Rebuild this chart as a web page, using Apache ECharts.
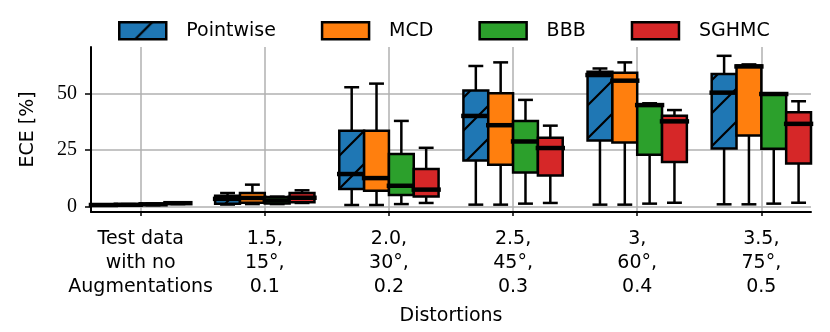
<!DOCTYPE html>
<html>
<head>
<meta charset="utf-8">
<script src="https://cdn.jsdelivr.net/npm/echarts@6/dist/echarts.min.js"></script>
<style>html,body{margin:0;padding:0;background:#fff;}#c{width:830px;height:332px;}</style>
</head>
<body>
<div id="c"></div>
<script>
// ---- data ----
const categories = [
  "Test data\nwith no\nAugmentations",
  "1.5,\n15°,\n0.1",
  "2.0,\n30°,\n0.2",
  "2.5,\n45°,\n0.3",
  "3,\n60°,\n0.4",
  "3.5,\n75°,\n0.5"
];
const methods = ["Pointwise", "MCD", "BBB", "SGHMC"];
const yTicks = [0, 25, 50];
// each box: [lowWhisker, q1, median, q3, highWhisker]
const pointwise = [
  [0.3, 0.5, 0.6, 0.7, 0.9],
  [0.8, 1.2, 3.3, 4.7, 5.9],
  [0.6, 7.7, 14.3, 33.5, 52.7],
  [0.75, 20.3, 40.0, 51.2, 62.1],
  [0.75, 29.1, 58.1, 59.5, 61.0],
  [0.9, 25.6, 50.3, 58.5, 66.6]
];
const mcd = [
  [0.3, 0.5, 0.7, 0.8, 1.0],
  [1.0, 1.6, 3.7, 5.9, 9.6],
  [0.6, 6.9, 12.5, 33.5, 54.3],
  [0.75, 18.4, 35.9, 50.0, 63.7],
  [0.75, 28.2, 55.6, 59.1, 63.7],
  [0.9, 31.3, 61.9, 62.3, 62.8]
];
const bbb = [
  [0.5, 0.7, 0.9, 1.0, 1.2],
  [1.0, 1.3, 2.6, 4.1, 4.3],
  [1.0, 5.0, 9.1, 23.2, 37.8],
  [1.2, 15.0, 28.7, 37.8, 47.1],
  [1.2, 22.8, 44.8, 45.2, 45.6],
  [1.2, 25.5, 49.7, 49.9, 50.0]
];
const sghmc = [
  [1.0, 1.2, 1.4, 1.6, 1.8],
  [1.5, 1.8, 3.8, 5.9, 7.1],
  [1.5, 4.4, 7.4, 16.5, 25.9],
  [1.5, 13.7, 25.8, 30.4, 35.7],
  [1.6, 19.6, 37.6, 40.1, 42.6],
  [1.6, 19.0, 36.5, 41.6, 46.5]
];
const allData = [pointwise, mcd, bbb, sghmc];

// ---- styles ----
const colors = ["#1f77b4", "#ff7f0e", "#2ca02c", "#d62728"];
const offsets = [-0.3, -0.1, 0.1, 0.3];
const boxWidth = 0.2;

function makeHatch(bg) {
  const s = 33;
  const c = document.createElement("canvas");
  c.width = s; c.height = s;
  const g = c.getContext("2d");
  g.fillStyle = bg; g.fillRect(0, 0, s, s);
  g.strokeStyle = "#000"; g.lineWidth = 2.2;
  g.beginPath();
  [-s, 0, s].forEach(o => { g.moveTo(o - 1, s + 1); g.lineTo(o + s + 1, -1); });
  g.stroke();
  return c;
}
const hatch = { image: makeHatch(colors[0]), repeat: "repeat" };
const fills = [hatch, colors[1], colors[2], colors[3]];

const SANS = "DejaVu Sans";
const SERIF = "Liberation Serif";

function renderBox(fill) {
  return function (params, api) {
    const x = api.value(0);
    const pL = api.coord([x, api.value(1)]);
    const pQ1 = api.coord([x, api.value(2)]);
    const pM = api.coord([x, api.value(3)]);
    const pQ3 = api.coord([x, api.value(4)]);
    const pH = api.coord([x, api.value(5)]);
    const w = api.size([boxWidth, 0])[0];
    const hw = w / 2, cw = w * 0.3;
    const cx = pM[0];
    const ls = { stroke: "#000", lineWidth: 2.5 };
    return {
      type: "group",
      children: [
        { type: "line", shape: { x1: cx, y1: pL[1], x2: cx, y2: pQ1[1] }, style: ls },
        { type: "line", shape: { x1: cx, y1: pQ3[1], x2: cx, y2: pH[1] }, style: ls },
        { type: "line", shape: { x1: cx - cw, y1: pL[1], x2: cx + cw, y2: pL[1] }, style: ls },
        { type: "line", shape: { x1: cx - cw, y1: pH[1], x2: cx + cw, y2: pH[1] }, style: ls },
        { type: "rect", shape: { x: cx - hw, y: pQ3[1], width: w, height: pQ1[1] - pQ3[1] },
          style: { fill: fill, stroke: "#000", lineWidth: 2.5 } },
        { type: "line", shape: { x1: cx - hw, y1: pM[1], x2: cx + hw, y2: pM[1] },
          style: { stroke: "#000", lineWidth: 4.5, lineCap: "square" } }
      ]
    };
  };
}

const series = methods.map((name, k) => ({
  name: name,
  type: "custom",
  renderItem: renderBox(fills[k]),
  itemStyle: { color: colors[k] },
  encode: { x: 0, y: [1, 2, 3, 4, 5] },
  data: allData[k].map((d, i) => [i + offsets[k]].concat(d)),
  z: 3
}));

const chart = echarts.init(document.getElementById("c"), null, { renderer: "canvas" });
chart.setOption({
  animation: false,
  backgroundColor: "#fff",
  grid: { left: 91, right: 19, top: 47, bottom: 120, containLabel: false },
  legend: {
    top: 21, left: 118, padding: 0,
    itemWidth: 47, itemHeight: 17, itemGap: 45,
    icon: "rect",
    textStyle: { fontFamily: SANS, fontSize: 19, color: "#000", padding: [0, 0, 0, 15] },
    data: methods.map((m, k) => ({
      name: m,
      itemStyle: { color: fills[k], borderColor: "#000", borderWidth: 2.5 }
    }))
  },
  xAxis: {
    type: "value", min: -0.4, max: 5.4,
    name: "Distortions", nameLocation: "middle", nameGap: 95,
    nameTextStyle: { fontFamily: SANS, fontSize: 19, color: "#000" },
    axisLine: { onZero: false, lineStyle: { color: "#000", width: 2 } },
    axisTick: { show: true, length: 4, customValues: categories.map((c, i) => i), lineStyle: { color: "#000", width: 1.5 } },
    axisLabel: {
      customValues: categories.map((c, i) => i),
      formatter: v => categories[Math.round(v)],
      fontFamily: SANS, fontSize: 19, color: "#000", lineHeight: 24, margin: 15, align: "center"
    },
    splitLine: { show: true, lineStyle: { color: "#b0b0b0", width: 1.5 } }
  },
  yAxis: {
    type: "value", min: -2.5, max: 70.5,
    name: "ECE [%]", nameLocation: "middle", nameGap: 53,
    nameTextStyle: { fontFamily: SANS, fontSize: 19, color: "#000" },
    axisLine: { show: true, onZero: false, lineStyle: { color: "#000", width: 2 } },
    axisTick: { show: true, length: 6, customValues: yTicks, lineStyle: { color: "#000", width: 1.5 } },
    axisLabel: { customValues: yTicks, fontFamily: SERIF, fontSize: 20, color: "#000", margin: 14 },
    splitLine: { show: true, lineStyle: { color: "#b0b0b0", width: 1.5 } }
  },
  series: series
});
</script>
</body>
</html>
